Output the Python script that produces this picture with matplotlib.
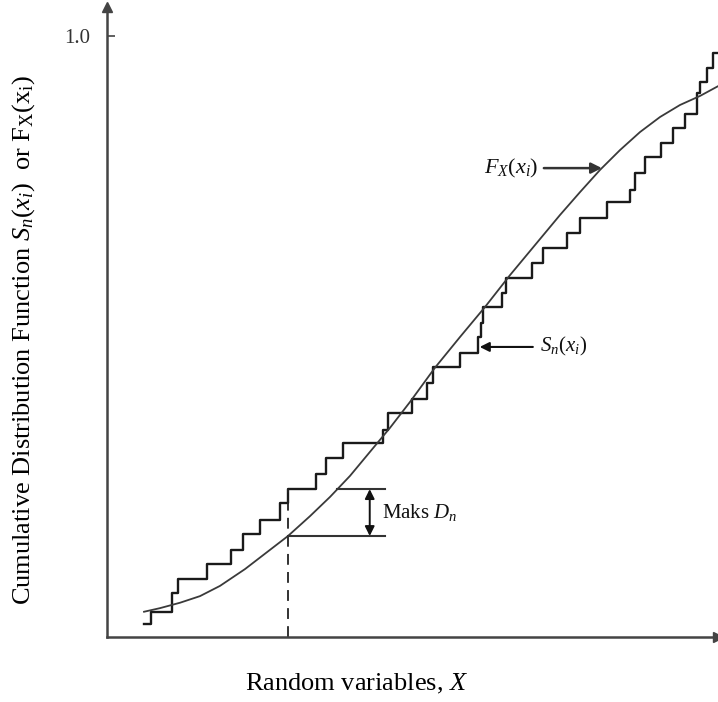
import numpy as np
import matplotlib as mpl
import matplotlib.pyplot as plt

mpl.use("Agg")
plt.rcParams["font.family"] = ["Liberation Serif", "DejaVu Serif"]
plt.rcParams["mathtext.fontset"] = "custom"
plt.rcParams["mathtext.rm"] = "Liberation Serif"
plt.rcParams["mathtext.it"] = "Liberation Serif:italic"

# empirical CDF S_n(x): jump locations and level after each jump
sn_x = [0.606, 0.720, 1.064, 1.162, 1.637, 2.029, 2.226, 2.504, 2.831, 2.962,
        3.421, 3.584, 3.863, 4.517, 4.599, 4.992, 5.237, 5.336, 5.777, 6.072,
        6.121, 6.154, 6.465, 6.530, 6.956, 7.136, 7.529, 7.741, 8.183, 8.560,
        8.642, 8.805, 9.067, 9.264, 9.460, 9.656, 9.705, 9.820, 9.918, 10.05]
sn_y = [0.022, 0.042, 0.073, 0.097, 0.122, 0.145, 0.171, 0.195, 0.223, 0.246,
        0.271, 0.298, 0.323, 0.344, 0.373, 0.396, 0.423, 0.449, 0.473, 0.499,
        0.523, 0.549, 0.572, 0.597, 0.622, 0.647, 0.672, 0.697, 0.724, 0.744,
        0.772, 0.799, 0.822, 0.847, 0.870, 0.905, 0.924, 0.947, 0.972, 0.972]

# theoretical CDF F_X(x)
fx_x = [0.606, 0.867, 1.195, 1.522, 1.849, 2.259, 2.668, 2.962, 3.322, 3.650,
        3.977, 4.304, 4.632, 4.959, 5.368, 5.777, 6.187, 6.596, 7.005, 7.414,
        7.741, 8.069, 8.396, 8.724, 9.051, 9.378, 9.705, 10.05]
fx_y = [0.042, 0.048, 0.057, 0.068, 0.085, 0.113, 0.145, 0.168, 0.201, 0.233,
        0.268, 0.308, 0.348, 0.391, 0.448, 0.499, 0.549, 0.602, 0.652, 0.702,
        0.740, 0.777, 0.810, 0.840, 0.865, 0.885, 0.900, 0.919]

dn_x = 2.962  # location of maximum deviation

fig = plt.figure(figsize=(7.18, 7.02), dpi=100)
ax = fig.add_axes([107 / 718, 65 / 702, 611 / 718, 630 / 702])
ax.set_xlim(0, 10)
ax.set_ylim(0, 1.048)

axc = "#444444"
ax.step(sn_x, sn_y, where="post", color="#1a1a1a", lw=1.7, clip_on=False)
ax.plot(fx_x, fx_y, color="#3a3a3a", lw=1.3, clip_on=False)

# max deviation markers
dn_top = sn_y[sn_x.index(dn_x)]
dn_bot = np.interp(dn_x, fx_x, fx_y)
x_top0 = np.interp(dn_top, fx_y, fx_x)
ax.plot([dn_x, dn_x], [0, dn_top], color="#222222", lw=1.3, ls=(0, (6, 4)))
ax.plot([x_top0, 4.55], [dn_top, dn_top], color="#333333", lw=1.5)
ax.plot([dn_x, 4.55], [dn_bot, dn_bot], color="#333333", lw=1.5)
ax.annotate("", xy=(4.30, dn_top), xytext=(4.30, dn_bot),
            arrowprops=dict(arrowstyle="<|-|>", color="#111111", lw=1.4,
                            mutation_scale=14, shrinkA=0, shrinkB=0))
ax.text(4.50, (dn_top + dn_bot) / 2, r"Maks $D_n$", fontsize=15,
        va="center", ha="left", color="#111111")

# curve labels
ax.annotate("", xy=(8.10, 0.780), xytext=(7.15, 0.780),
            arrowprops=dict(arrowstyle="-|>", color="#333333", lw=1.8,
                            mutation_scale=16, shrinkA=0, shrinkB=0))
ax.text(7.06, 0.780, r"$F_X(x_i)$", fontsize=16, va="center", ha="right",
        color="#111111")
ax.annotate("", xy=(6.10, 0.4825), xytext=(6.97, 0.4825),
            arrowprops=dict(arrowstyle="-|>", color="#111111", lw=1.5,
                            mutation_scale=14, shrinkA=0, shrinkB=0))
ax.text(7.09, 0.4825, r"$S_n(x_i)$", fontsize=15, va="center", ha="left",
        color="#111111")

# axes with arrow heads
for s in ["top", "right"]:
    ax.spines[s].set_visible(False)
for s in ["left", "bottom"]:
    ax.spines[s].set_color(axc)
    ax.spines[s].set_linewidth(1.8)
ax.plot(1.0, 0, ">", color=axc, ms=7, transform=ax.transAxes, clip_on=False)
ax.plot(0, 1.0, "^", color=axc, ms=7, transform=ax.transAxes, clip_on=False)

ax.set_xticks([])
ax.set_yticks([1.0])
ax.set_yticklabels(["1.0"])
ax.tick_params(axis="y", direction="in", length=6, width=1.2, color=axc,
               labelsize=15, labelcolor="#333333", pad=12)

ax.set_xlabel(r"Random variables, $X$", fontsize=19)
ax.xaxis.set_label_coords((357 - 107) / 611, -(672 - 637) / 630)
ax.set_ylabel(r"Cumulative Distribution Function $S_n(x_i)$  or "
              r"F$_\mathrm{X}$(x$_\mathrm{i}$)", fontsize=19)
ax.yaxis.set_label_coords((37 - 107) / 611, (637 - 340) / 630)

fig.savefig("out.png", dpi=100)
